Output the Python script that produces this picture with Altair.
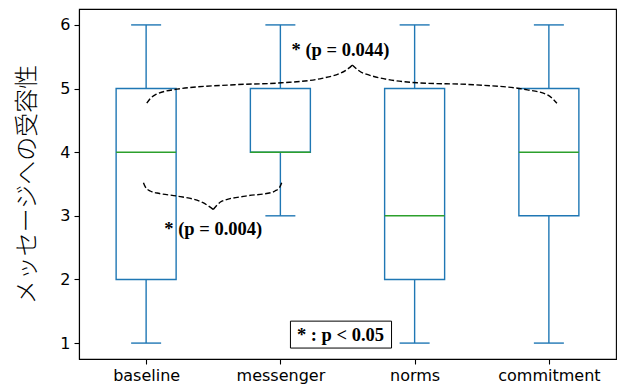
import altair as alt
import pandas as pd

# ---- box plot statistics ----
categories = ["baseline", "messenger", "norms", "commitment"]
whisker_low = [1, 3, 1, 1]
q1 = [2, 4, 2, 3]
median = [4, 4, 3, 4]
q3 = [5, 5, 5, 5]
whisker_high = [6, 6, 6, 6]
y_ticks = [1, 2, 3, 4, 5, 6]
y_title = "メッセージへの受容性"

# ---- curly-brace annotation key points (x = category position, y = axis units) ----
brace_id = ["b"] * 14 + ["t"] * 16
brace_half = (["l"] * 7 + ["r"] * 7 + ["l"] * 9 + ["r"] * 7)
brace_x = [0.98, 0.995, 1.03, 1.10, 1.23, 1.42, 1.50,
           1.50, 1.565, 1.74, 1.94, 1.96, 1.995, 2.01,
           1.005, 1.03, 1.067, 1.23, 1.66, 2.01, 2.31, 2.51, 2.535,
           2.535, 2.62, 3.02, 3.44, 3.84, 3.99, 4.06]
brace_y = [3.52, 3.45, 3.39, 3.35, 3.31, 3.21, 3.10,
           3.10, 3.23, 3.31, 3.37, 3.39, 3.45, 3.52,
           4.77, 4.84, 4.90, 4.99, 5.06, 5.09, 5.16, 5.32, 5.37,
           5.37, 5.24, 5.09, 5.06, 4.98, 4.90, 4.77]

annot_text = ["* (p = 0.044)", "* (p = 0.004)", "* : p < 0.05"]
annot_x = [2.448, 1.50, 2.448]
annot_y = [5.61, 2.79, 1.135]
legend_box_x = [2.075]
legend_box_x2 = [2.828]
legend_box_y = [1.345]
legend_box_y2 = [0.922]

BLUE = "#1f77b4"
GREEN = "#2ca02c"

df = pd.DataFrame({
    "pos": list(range(1, len(categories) + 1)),
    "cat": categories,
    "lo": whisker_low, "q1": q1, "med": median, "q3": q3, "hi": whisker_high,
})
braces = pd.DataFrame({"id": brace_id, "half": brace_half, "bx": brace_x, "by": brace_y})
braces["seg"] = braces["id"] + braces["half"]
annots = pd.DataFrame({"t": annot_text, "ax": annot_x, "ay": annot_y})
lbox = pd.DataFrame({"x1": legend_box_x, "x2": legend_box_x2, "y1": legend_box_y, "y2": legend_box_y2})

label_expr = "[" + ",".join("'%s'" % c for c in categories) + "][datum.value - 1]"

xscale = alt.Scale(domain=[0.5, 4.5], nice=False, zero=False, padding=0)
yscale = alt.Scale(domain=[0.75, 6.25], nice=False, zero=False, padding=0)
xaxis = alt.Axis(values=[1, 2, 3, 4], labelExpr=label_expr, title=None, grid=False,
                 labelPadding=3, labelAngle=0)
yaxis = alt.Axis(values=y_ticks, title=y_title, grid=False, labelPadding=4,
                 titleFont="Noto Sans CJK JP", titleFontSize=24, titleFontWeight=300,
                 titleColor="black", titlePadding=20)


def X(f):
    return alt.X(f"{f}:Q", scale=xscale, axis=xaxis)


def Y(f):
    return alt.Y(f"{f}:Q", scale=yscale, axis=yaxis)


base = alt.Chart(df)

whisk_low = base.mark_rule(color=BLUE, strokeWidth=1.4).encode(x=X("pos"), y=Y("lo"), y2="q1:Q")
whisk_high = base.mark_rule(color=BLUE, strokeWidth=1.4).encode(x=X("pos"), y=Y("q3"), y2="hi:Q")
cap_low = base.mark_tick(orient="horizontal", size=30, thickness=1.4, color=BLUE, opacity=1).encode(
    x=X("pos"), y=Y("lo"))
cap_high = base.mark_tick(orient="horizontal", size=30, thickness=1.4, color=BLUE, opacity=1).encode(
    x=X("pos"), y=Y("hi"))
box = base.mark_bar(size=60, fillOpacity=0, stroke=BLUE, strokeWidth=1.4).encode(
    x=X("pos"), y=Y("q1"), y2="q3:Q")
med = base.mark_tick(orient="horizontal", size=60, thickness=1.4, color=GREEN, opacity=1).encode(
    x=X("pos"), y=Y("med"))

brace = alt.Chart(braces).mark_line(color="black", strokeWidth=1.4, strokeDash=[5.5, 2.5],
                                    interpolate="monotone").encode(
    x=X("bx"), y=Y("by"), detail="seg:N")

legend_rect = alt.Chart(lbox).mark_rect(fill="white", stroke="black", strokeWidth=1).encode(
    x=X("x1"), x2="x2:Q", y=Y("y1"), y2="y2:Q")

texts = alt.Chart(annots).mark_text(font="Liberation Serif", fontWeight="bold", fontSize=18.5,
                                    color="black", align="center", baseline="middle").encode(
    x=X("ax"), y=Y("ay"), text="t:N")

chart = alt.layer(whisk_low, whisk_high, cap_low, cap_high, box, med, brace, legend_rect, texts).properties(
    width=537, height=350,
    autosize=alt.AutoSizeParams(type="none"),
    padding={"left": 79, "top": 9, "right": 3, "bottom": 29},
).configure_view(
    stroke="black", strokeWidth=1.1
).configure_axis(
    labelFont="DejaVu Sans", labelFontSize=16, labelColor="black",
    tickColor="black", tickSize=5, tickWidth=1.1,
    domainColor="black", domainWidth=1.1,
)

chart.save("out.html", embed_options={"renderer": "svg", "actions": False})
